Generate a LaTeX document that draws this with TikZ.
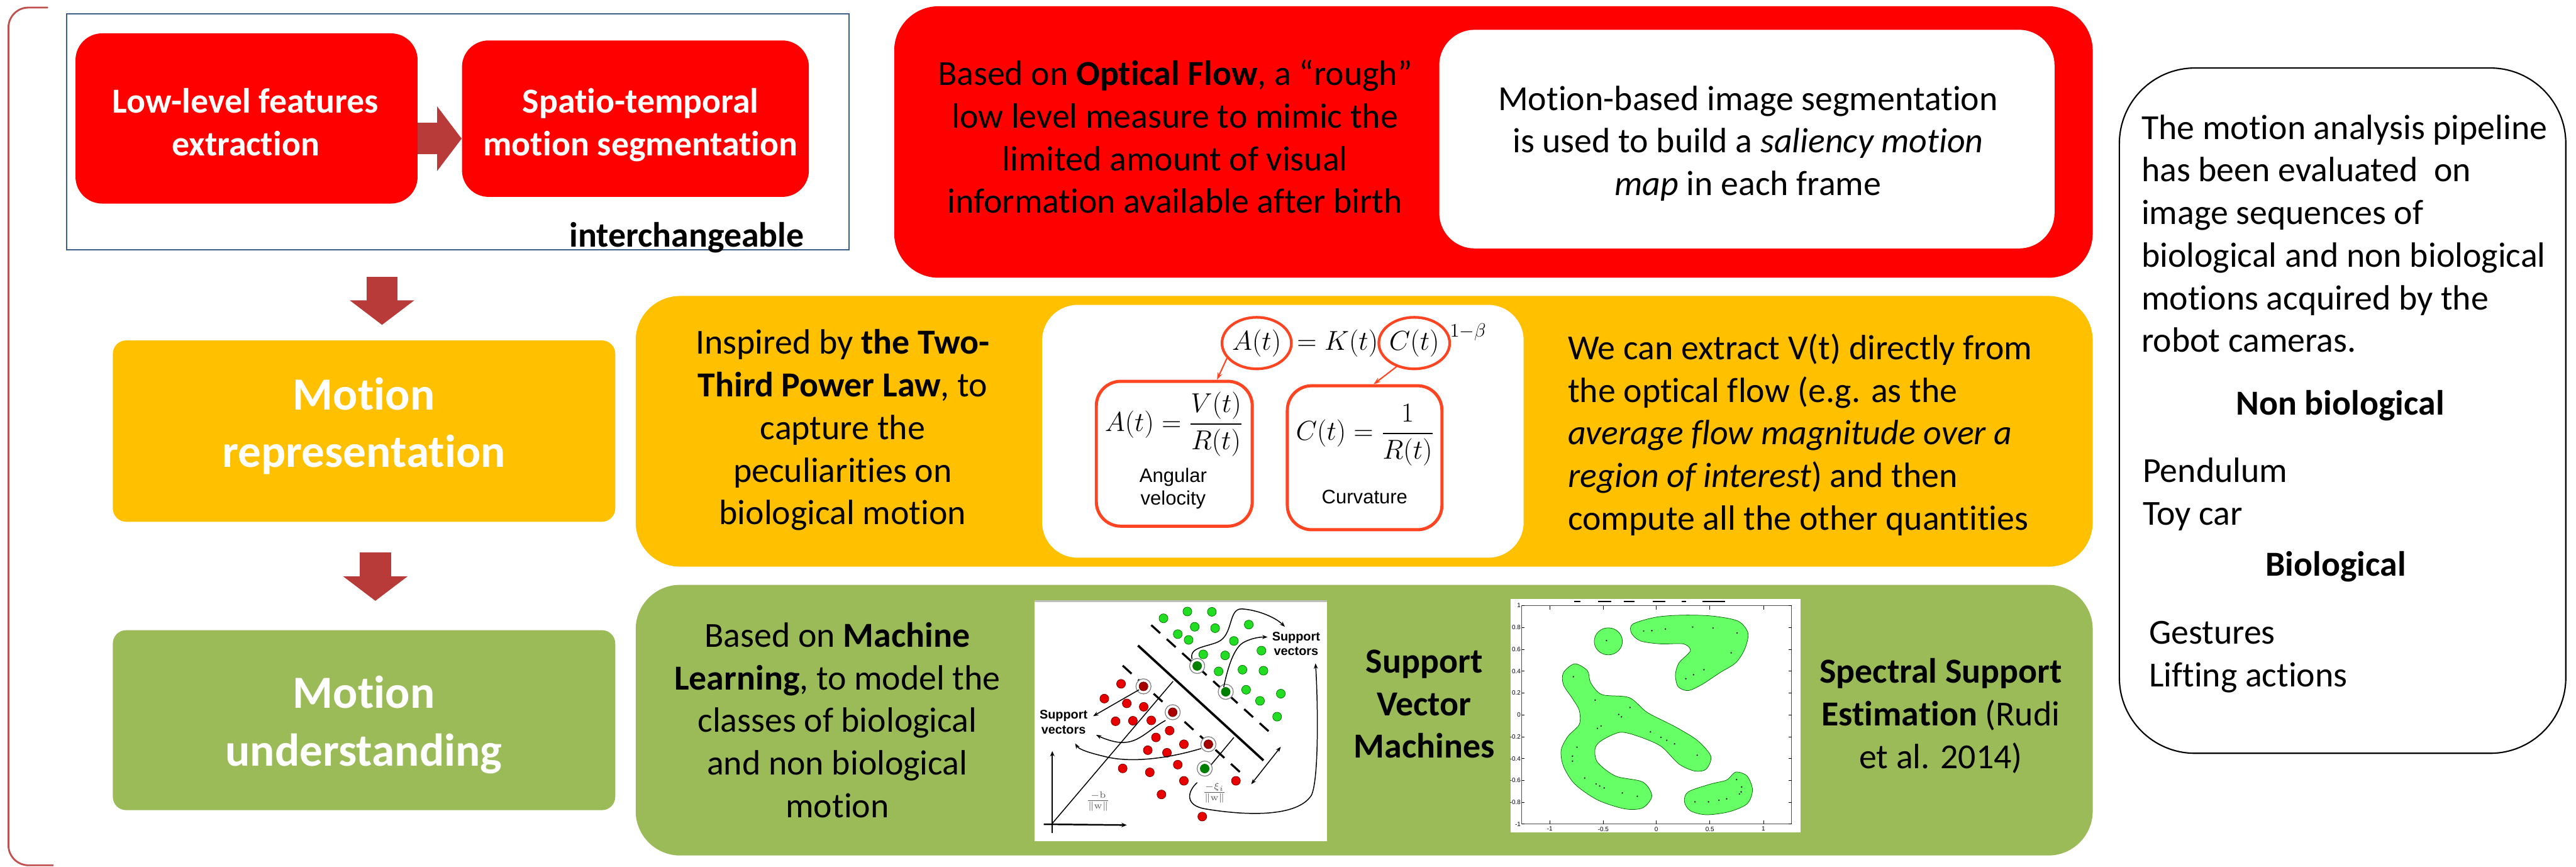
\RequirePackage{fix-cm}
\documentclass[tikz,border=0pt]{standalone}
\usepackage[no-math]{fontspec}
\setmainfont{Carlito}[Ligatures={TeX,NoCommon}]
\newfontfamily\helv{Liberation Sans}
\usepackage{amsmath}
\usetikzlibrary{arrows.meta, shapes.geometric}

\definecolor{hotred}{HTML}{FF0000}
\definecolor{amber}{HTML}{FFC000}
\definecolor{ygreen}{HTML}{9BBB59}
\definecolor{slateblue}{HTML}{3B5E8C}
\definecolor{brick}{HTML}{C0504D}
\definecolor{arrowred}{HTML}{B83B39}
\definecolor{eqred}{HTML}{FF4422}
\definecolor{blobgreen}{HTML}{66FF66}
\definecolor{dotgreen}{HTML}{22DD22}
\definecolor{dotred}{HTML}{E80000}

\newcommand\bodyfont{\fontsize{22.5pt}{27.3pt}\selectfont}
\newcommand\bigfont{\fontsize{29.5pt}{36.7pt}\selectfont}
\newcommand\eqfont{\fontsize{17.5pt}{21pt}\selectfont}

\tikzstyle{panel}=[rectangle, rounded corners=1cm, inner sep=0pt]
\tikzstyle{txt}=[inner sep=0pt, align=center, font=\bodyfont]
\tikzstyle{head}=[inner sep=0pt, align=center, text=white, font=\bigfont\bfseries]
\tikzstyle{blockarrow}=[line width=.71cm, draw=arrowred, -{Triangle[length=.55cm, width=1.42cm]}]
\tikzstyle{ring}=[ellipse, draw=eqred, line width=.06cm, inner sep=0pt, font=\eqfont]
\tikzstyle{eqbox}=[rectangle, rounded corners=.55cm, draw=eqred, line width=.07cm, inner sep=0pt]
\tikzstyle{gdot}=[fill=dotgreen, draw=green!45!black, line width=.3pt]
\tikzstyle{rdot}=[fill=dotred, draw=red!45!black, line width=.3pt]
\tikzstyle{svmarrow}=[line width=.6pt, -{Stealth[length=.12cm, width=.09cm]}]
\tikzstyle{blob}=[fill=blobgreen, draw=green!40!black, line width=.3pt]

\begin{document}
\begin{tikzpicture}[x=1cm, y=-1cm]
    \useasboundingbox (0,0) rectangle (57.99,19.50);

    % bracket on the left
    \draw[brick, line width=.04cm, rounded corners=.45cm] (1.08,.17) -- (.19,.17) -- (.19,19.47) -- (1.2,19.47);

    % interchangeable pair
    \node[draw=slateblue, line width=.035cm, minimum width=17.61cm, minimum height=5.31cm, inner sep=0pt] (frame) at (10.305,2.965) {};
    \node[panel, fill=hotred, rounded corners=.6cm, minimum width=7.7cm, minimum height=3.83cm] (feat) at (5.55,2.665) {};
    \node[panel, fill=hotred, rounded corners=.6cm, minimum width=7.81cm, minimum height=3.52cm] (seg) at (14.305,2.67) {};
    \node[txt, text=white, font=\bodyfont\bfseries, anchor=north] at (5.53,1.86) {\strut Low-level features\\extraction};
    \node[txt, text=white, font=\bodyfont\bfseries, anchor=north] at (14.42,1.86) {\strut Spatio-temporal\\motion segmentation};
    \draw[blockarrow] ([yshift=-.455cm]feat.east) -- ([yshift=-.45cm]seg.west);
    \node[txt, font=\bodyfont\bfseries, anchor=base east] (tag) at (18.11,5.55) {interchangeable};

    % pipeline stages
    \node[panel, fill=amber, rounded corners=.3cm, minimum width=11.31cm, minimum height=4.08cm] (rep) at (8.195,9.70) {};
    \node[panel, fill=ygreen, rounded corners=.3cm, minimum width=11.31cm, minimum height=4.05cm] (und) at (8.195,16.205) {};
    \node[head, anchor=north] at (8.19,8.31) {\strut Motion\\representation};
    \node[head, anchor=north] at (8.19,15.03) {\strut Motion\\understanding};
    \coordinate (d1) at (8.60,6.23);
    \coordinate (d1e) at (8.60,7.31);
    \coordinate (d2) at (8.45,12.43);
    \coordinate (d2e) at (8.45,13.52);
    \draw[blockarrow, line width=.70cm] (d1) -- (d1e);
    \draw[blockarrow, line width=.70cm] (d2) -- (d2e);

    % optical flow panel
    \node[panel, fill=hotred, minimum width=26.98cm, minimum height=6.11cm] (flow) at (33.62,3.195) {};
    \node[panel, fill=white, rounded corners=.8cm, minimum width=13.85cm, minimum height=4.92cm] (sal) at (39.325,3.13) {};
    \node[txt, anchor=north] at (26.45,1.24) {\strut Based on \textbf{Optical Flow}, a “rough”\\low level measure to mimic the\\limited amount of visual\\information available after birth};
    \node[txt, anchor=north] at (39.35,1.80) {\strut Motion-based image segmentation\\is used to build a \textit{saliency motion}\\\textit{map} in each frame};

    % two-third power law panel
    \node[panel, fill=amber, minimum width=32.8cm, minimum height=6.09cm] (law) at (30.71,9.705) {};
    \node[panel, fill=white, rounded corners=.8cm, minimum width=10.84cm, minimum height=5.69cm] (form) at (28.88,9.705) {};
    \node[txt, anchor=north] at (18.97,7.29) {\strut Inspired by \textbf{the Two-}\\\textbf{Third Power Law}, to\\capture the\\peculiarities on\\biological motion};
    \node[txt, anchor=north west, align=left] at (35.29,7.41) {\strut We can extract V(t) directly from\\the optical flow (e.g. as the\\\textit{average flow magnitude over a}\\\textit{region of interest}) and then\\compute all the other quantities};

    \node[ring, minimum width=1.42cm, minimum height=1.16cm] (cA) at (28.29,7.72) {$A(t)$};
    \node[inner sep=0pt, anchor=west, font=\eqfont] (eqK) at ([xshift=-.08cm]cA.east) {${}=K(t)$};
    \node[ring, minimum width=1.26cm, minimum height=1.16cm, anchor=west] (cC) at ([xshift=-.02cm]eqK.east) {$C(t)$};
    \node[inner sep=0pt, anchor=west, font=\eqfont] (expo) at ([xshift=-.03cm, yshift=.24cm]cC.east) {$\scriptstyle 1-\beta$};
    \node[eqbox, minimum width=3.51cm, minimum height=3.26cm] (bA) at (26.435,10.21) {};
    \node[eqbox, minimum width=3.48cm, minimum height=3.24cm] (bC) at (30.72,10.30) {};
    \node[inner sep=0pt, anchor=base, font=\eqfont] at (26.43,9.70) {$A(t)=\dfrac{V(t)}{R(t)}$};
    \node[inner sep=0pt, anchor=base, font=\eqfont] at (30.73,9.91) {$C(t)=\dfrac{1}{R(t)}$};
    \node[inner sep=0pt, anchor=north, align=center, font=\helv\fontsize{12.5pt}{14.5pt}\selectfont] at (26.41,10.49) {\strut Angular\\velocity};
    \node[inner sep=0pt, anchor=base, font=\helv\fontsize{12.5pt}{14.5pt}\selectfont] at (30.72,11.34) {Curvature};
    \draw[eqred, line width=.03cm, -{Stealth[length=.16cm, width=.11cm]}] (cA.207) -- (bA.60);
    \draw[eqred, line width=.03cm, -{Stealth[length=.16cm, width=.11cm]}] (cC.233) -- (bC.83);

    % machine learning panel
    \node[panel, fill=ygreen, minimum width=32.8cm, minimum height=6.09cm] (learn) at (30.71,16.205) {};
    \node[txt, anchor=north] at (18.85,13.88) {\strut Based on \textbf{Machine}\\\textbf{Learning}, to model the\\classes of biological\\and non biological\\motion};
    \node[txt, font=\bodyfont\bfseries, anchor=north] at (32.06,14.46) {\strut Support\\Vector\\Machines};
    \node[txt, anchor=north] at (43.69,14.69) {\strut\textbf{Spectral Support}\\\textbf{Estimation} (Rudi\\et al. 2014)};

    % svm sketch
    \begin{scope}[shift={(23cm,-13.3cm)}, x={(.004591cm,0)}, y={(0,-.003827cm)}]
      \fill[white] (62,55) rectangle (1495,1470);
      \draw[gray!50, line width=.05cm] (62,60) -- (1495,60);
      \draw[line width=1.3pt, dash pattern=on .27cm off .2cm] (635,200) -- (1230,845);
      \draw[line width=1.3pt, dash pattern=on .27cm off .2cm] (495,438) -- (1085,1080);
      \draw[line width=1.5pt] (570,320) -- (1185,995);
      \draw[line width=.6pt] (150,1365) -- (742,530);
      \draw[line width=.6pt] (915,1040) -- (1040,860);
      \draw[line width=1pt, -{Stealth[length=.12cm, width=.1cm]}] (150,1420) -- (150,940);
      \draw[line width=1pt, -{Stealth[length=.12cm, width=.1cm]}] (108,1370) -- (515,1375);
      \draw[line width=.6pt, {Stealth[length=.12cm, width=.09cm]}-{Stealth[length=.12cm, width=.09cm]}] (1125,1135) -- (1270,915);
      \foreach \p in {(695,160),(812,120),(932,122),(1113,197),(848,210),(948,218),(765,253),(818,287),(1040,293),(890,372),(997,378),(1175,350),(965,472),(1082,462),(1185,468),(1100,580),(1168,645),(1270,603),(1252,738)}
        \draw[gdot] \p circle (.1cm);
      \foreach \p in {(487,545),(405,632),(515,660),(598,680),(460,765),(545,762),(635,760),(725,820),(658,860),(618,935),(712,950),(795,900),(495,1042),(628,1065),(765,1020),(795,1115),(685,1195),(1050,1115),(885,1325)}
        \draw[rdot] \p circle (.1cm);
      \foreach \p in {(860,440),(1000,592),(897,1043)}{
        \draw[gray, line width=.5pt, fill=white] \p circle (.17cm);
        \draw[gdot, fill=green!50!black] \p circle (.1cm);
      }
      \foreach \p in {(597,560),(740,712),(915,900)}{
        \draw[gray, line width=.5pt, fill=white] \p circle (.17cm);
        \draw[rdot, fill=red!65!black] \p circle (.1cm);
      }
      \draw[svmarrow] (835,400) .. controls (820,330) and (900,330) .. (960,300) .. controls (1040,260) and (1010,100) .. (1080,105) .. controls (1150,110) and (1240,150) .. (1290,210);
      \draw[svmarrow] (990,565) .. controls (1010,450) and (1040,330) .. (1090,300) .. controls (1130,275) and (1170,270) .. (1205,270);
      \draw[svmarrow] (575,580) -- (350,735);
      \draw[svmarrow] (705,760) .. controls (600,830) and (560,920) .. (440,880) .. controls (410,870) and (390,860) .. (365,845);
      \draw[svmarrow] (880,925) .. controls (700,990) and (520,1010) .. (400,970) .. controls (330,950) and (280,930) .. (262,895);
      \draw[svmarrow] (860,1125) .. controls (810,1180) and (800,1260) .. (900,1280) .. controls (1100,1320) and (1350,1330) .. (1420,1200) .. controls (1460,1100) and (1450,600) .. (1440,425);
      \node[inner sep=0pt, align=center, font=\helv\bfseries\fontsize{8pt}{9.5pt}\selectfont] (svup) at (1345,310) {Support\\vectors};
      \node[inner sep=0pt, align=center, font=\helv\bfseries\fontsize{8pt}{9.5pt}\selectfont] (svlo) at (205,770) {Support\\vectors};
      \node[inner sep=0pt, text=gray!70!black, font=\fontsize{9pt}{10pt}\selectfont] (bw) at (375,1235) {$\frac{-\mathrm{b}}{\|\mathrm{w}\|}$};
      \node[inner sep=0pt, text=gray!70!black, font=\fontsize{9pt}{10pt}\selectfont] (xw) at (945,1185) {$\frac{-\xi_i}{\|\mathrm{w}\|}$};
    \end{scope}

    % spectral support plot
    \begin{scope}[shift={(33cm,-12.5cm)}, x={(.010204cm,0)}, y={(0,-.004464cm)}]
      \fill[white] (98,220) rectangle (738,1395);
      \foreach \a/\b in {238/252,292/320,348/372,412/440,476/486,522/572}
        \draw[line width=.7pt] (\a,231) -- (\b,231);
      \filldraw[blob] (314,432) ellipse [x radius=31, y radius=68];
      \filldraw[blob] plot[smooth cycle] coordinates {(368,345) (420,310) (480,300) (545,305) (600,330) (622,390) (615,470) (595,540) (560,590) (520,650) (490,680) (468,660) (462,600) (470,540) (495,480) (480,445) (430,445) (385,430) (365,390)};
      \filldraw[blob] plot[smooth cycle] coordinates {(240,545) (268,580) (275,640) (300,700) (360,715) (400,790) (460,860) (510,930) (540,1010) (530,1075) (505,1085) (470,1050) (430,960) (380,910) (340,890) (300,930) (285,970) (290,1040) (330,1110) (390,1140) (410,1210) (390,1270) (350,1275) (290,1230) (240,1150) (215,1060) (210,980) (225,910) (250,850) (250,780) (235,720) (215,650) (215,590)};
      \filldraw[blob] plot[smooth cycle] coordinates {(490,1190) (540,1150) (575,1130) (595,1090) (620,1110) (632,1180) (620,1250) (580,1290) (530,1305) (495,1285) (482,1240)};
      \foreach \p in {(310,428),(392,380),(410,378),(440,370),(500,360),(545,365),(598,390),(585,490),(525,575),(502,600),(485,620),(237,610),(285,728),(362,765),(337,800),(343,812),(298,858),(290,870),(407,888),(430,915),(443,930),(460,948),(510,1005),(245,965),(235,1010),(235,1035),(262,1120),(287,1150),(295,1160),(305,1170),(345,1195),(378,1212),(505,1240),(535,1240),(558,1232),(575,1225),(597,1128),(608,1165),(607,1190),(603,1200)}
        \fill \p circle (.018cm);
      \draw[line width=.4pt, gray!60!black] (123,252) rectangle (718,1352);
      \foreach \t/\lab in {252/1,362/0.8,472/0.6,582/0.4,692/0.2,802/0,912/-0.2,1022/-0.4,1132/-0.6,1242/-0.8,1352/-1}{
        \draw[line width=.3pt] (123,\t) -- ++(6,0);
        \draw[line width=.3pt] (718,\t) -- ++(-6,0);
        \node[anchor=east, inner sep=.5pt, font=\helv\fontsize{4pt}{5pt}\selectfont] at (123,\t) {\lab};
      }
      \foreach \t/\lab in {185/-1,303/-0.5,420/0,538/0.5,656/1}{
        \draw[line width=.3pt] (\t,1352) -- ++(0,-20);
        \draw[line width=.3pt] (\t,252) -- ++(0,20);
        \node[anchor=north, inner sep=1pt, font=\helv\fontsize{4pt}{5pt}\selectfont] at (\t,1356) {\lab};
      }
    \end{scope}

    % evaluation panel
    \node[draw=black, line width=.03cm, rounded corners=1.7cm, minimum width=10.05cm, minimum height=15.42cm, inner sep=0pt] (eval) at (52.735,9.24) {};
    \node[txt, anchor=north west, align=left] at (48.20,2.45) {\strut The motion analysis pipeline\\has been evaluated~ on\\image sequences of\\biological and non biological\\motions acquired by the\\robot cameras.};
    \node[txt, font=\bodyfont\bfseries, anchor=base] at (52.68,9.34) {Non biological};
    \node[txt, anchor=north west, align=left] at (48.23,10.17) {\strut Pendulum\\Toy car};
    \node[txt, font=\bodyfont\bfseries, anchor=base] at (52.58,12.96) {Biological};
    \node[txt, anchor=north west, align=left] at (48.37,13.81) {\strut Gestures\\Lifting actions};

  \end{tikzpicture}
\end{document}
